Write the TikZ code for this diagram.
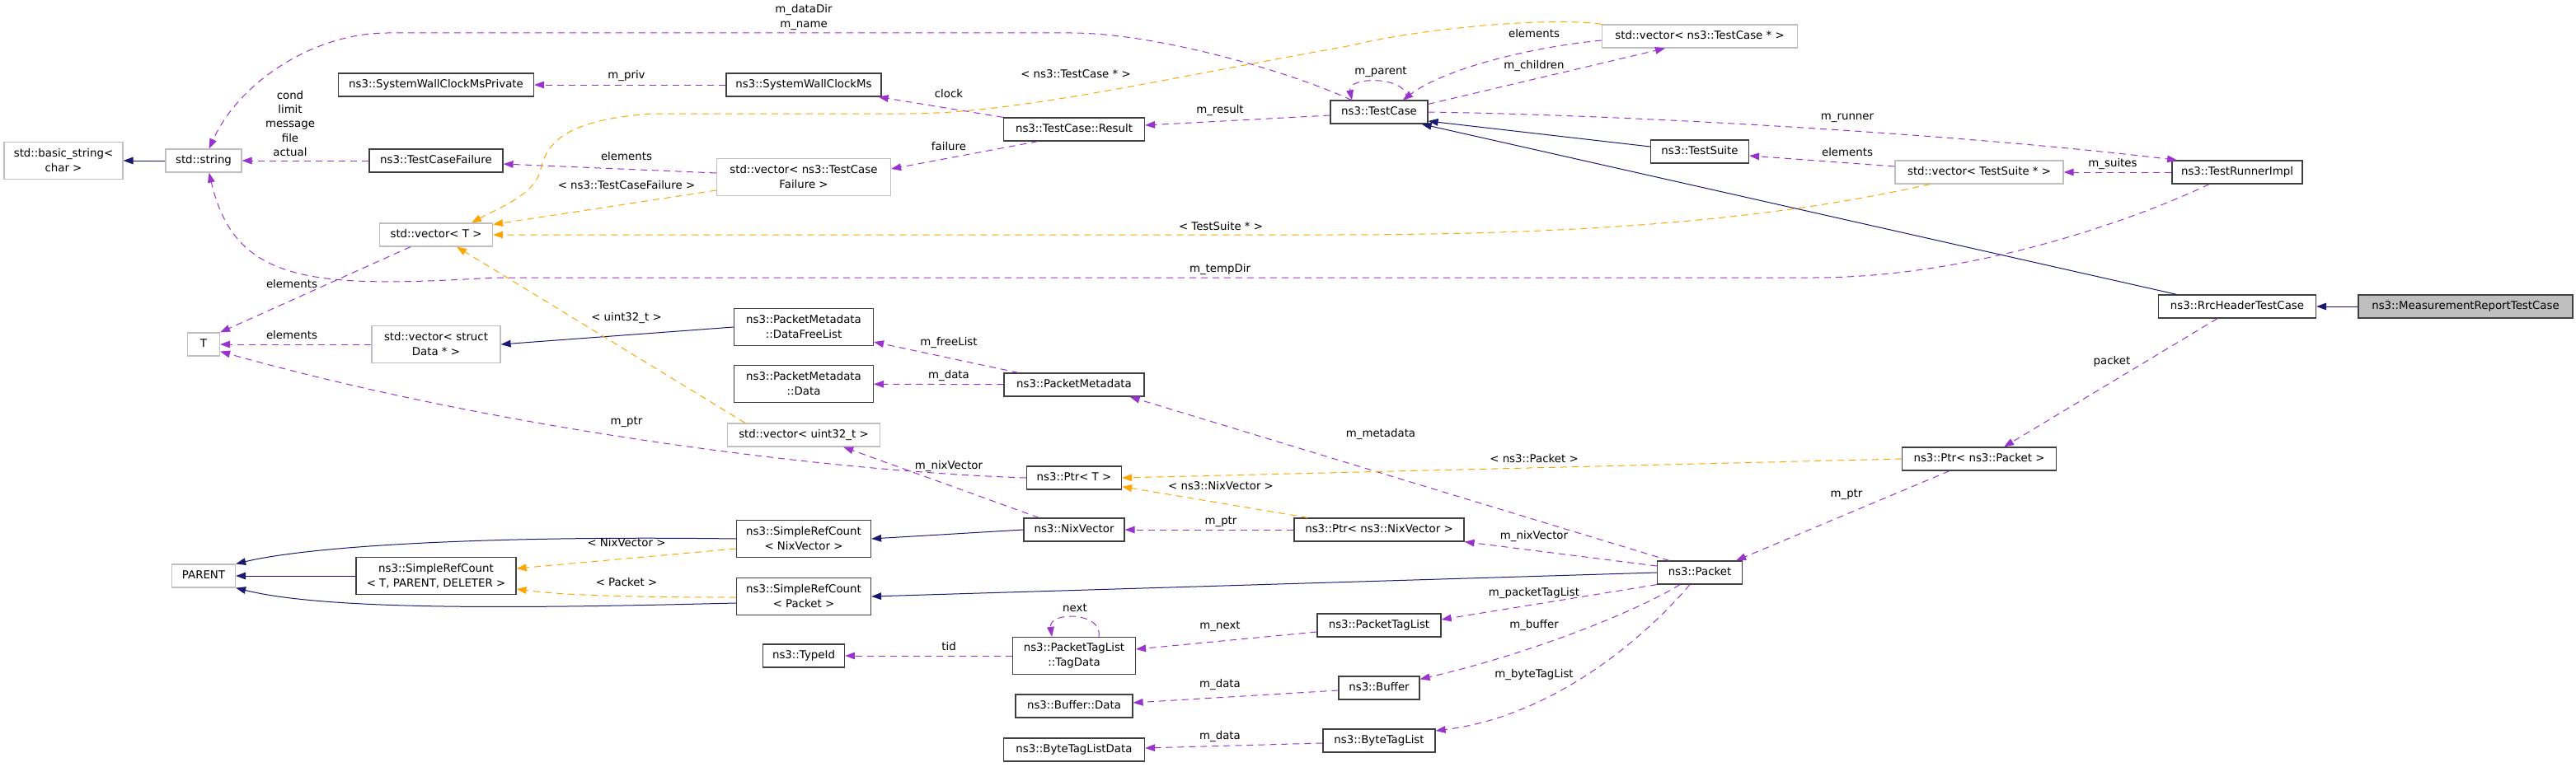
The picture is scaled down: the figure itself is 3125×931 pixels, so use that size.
\documentclass[tikz,border=0pt]{standalone}
\usepackage{fontspec}
\setmainfont{DejaVu Sans}
\usetikzlibrary{arrows.meta}
\definecolor{inhblue}{HTML}{191970}
\definecolor{usepurple}{HTML}{9A32CD}
\definecolor{tplorange}{HTML}{FFA500}
\definecolor{extgrey}{HTML}{BFBFBF}
\begin{document}
\begin{tikzpicture}[x=0.75pt,y=-0.75pt,>={Triangle[length=9pt,width=6.5pt]},
  every node/.style={font=\fontsize{10}{13.5}\selectfont},
  clsbox/.style={draw=black!75,line width=0.9pt,fill=white,inner xsep=2pt,inner ysep=0pt,minimum height=21pt,text height=7.5pt,text depth=2.5pt},
  clsbox2/.style={draw=black!75,line width=0.9pt,fill=white,inner xsep=2pt,inner ysep=0pt,minimum height=33.75pt,align=center},
  extnode/.style={draw=extgrey},
  inherit/.style={->,color=inhblue,line width=0.75pt},
  uses/.style={->,color=usepurple,line width=0.75pt,dash pattern=on 6pt off 4.5pt},
  templ/.style={->,color=tplorange,line width=0.75pt,dash pattern=on 6pt off 4.5pt},
  lbl/.style={inner sep=0pt,text=black,text height=7.5pt,text depth=2.5pt},
  lblm/.style={inner sep=0pt,text=black,align=center}]
\useasboundingbox (0,0) rectangle (3125,931);
\node (bs) [clsbox2, extnode, minimum width=108pt] at (77,195) {std::basic\_string<\\char >};
\node (str) [clsbox, extnode, minimum width=69pt] at (247,195) {std::string};
\node (t) [clsbox, extnode, minimum width=29.25pt] at (247,418) {T};
\node (par) [clsbox, extnode, minimum width=57.75pt] at (247,699) {PARENT};
\node (swp) [clsbox, minimum width=177.75pt] at (529,103) {ns3::SystemWallClockMsPrivate};
\node (tcf) [clsbox, minimum width=121.5pt] at (529,195) {ns3::TestCaseFailure};
\node (vt) [clsbox, extnode, minimum width=102.75pt] at (529,285) {std::vector< T >};
\node (vd) [clsbox2, extnode, minimum width=117pt] at (529,418) {std::vector< struct\\Data * >};
\node (src) [clsbox2, minimum width=145.5pt] at (529,699) {ns3::SimpleRefCount\\< T, PARENT, DELETER >};
\node (sw) [clsbox, minimum width=141pt] at (975,103) {ns3::SystemWallClockMs};
\node (vtcf) [clsbox2, extnode, minimum width=158.25pt] at (975,215) {std::vector< ns3::TestCase\\Failure >};
\node (dfl) [clsbox2, minimum width=126.75pt] at (975,397) {ns3::PacketMetadata\\::DataFreeList};
\node (pmd) [clsbox2, minimum width=126.75pt] at (975,466) {ns3::PacketMetadata\\::Data};
\node (vu) [clsbox, extnode, minimum width=138.75pt] at (975,528) {std::vector< uint32\_t >};
\node (srcn) [clsbox2, minimum width=122.25pt] at (975,654) {ns3::SimpleRefCount\\< NixVector >};
\node (srcp) [clsbox2, minimum width=122.25pt] at (975,724) {ns3::SimpleRefCount\\< Packet >};
\node (tid) [clsbox, minimum width=74.25pt] at (975,796) {ns3::TypeId};
\node (res) [clsbox, minimum width=128.25pt] at (1303,157) {ns3::TestCase::Result};
\node (pm) [clsbox, minimum width=127.5pt] at (1303,467) {ns3::PacketMetadata};
\node (ptrt) [clsbox, minimum width=86.25pt] at (1303,580) {ns3::Ptr< T >};
\node (nix) [clsbox, minimum width=91.5pt] at (1303,643) {ns3::NixVector};
\node (tag) [clsbox2, minimum width=111.75pt] at (1303,796) {ns3::PacketTagList\\::TagData};
\node (bd) [clsbox, minimum width=106.5pt] at (1303,857) {ns3::Buffer::Data};
\node (btd) [clsbox, minimum width=128.25pt] at (1303,910) {ns3::ByteTagListData};
\node (tc) [clsbox, minimum width=88.5pt] at (1673,136) {ns3::TestCase};
\node (ptrn) [clsbox, minimum width=154.5pt] at (1673,643) {ns3::Ptr< ns3::NixVector >};
\node (ptl) [clsbox, minimum width=112.5pt] at (1673,759) {ns3::PacketTagList};
\node (buf) [clsbox, minimum width=73.5pt] at (1673,835) {ns3::Buffer};
\node (btl) [clsbox, minimum width=102pt] at (1673,899) {ns3::ByteTagList};
\node (vtc) [clsbox, extnode, minimum width=177.75pt] at (2062,44) {std::vector< ns3::TestCase * >};
\node (ts) [clsbox, minimum width=89.25pt] at (2062,184) {ns3::TestSuite};
\node (pkt) [clsbox, minimum width=77.25pt] at (2062,695) {ns3::Packet};
\node (vts) [clsbox, extnode, minimum width=153pt] at (2401,209) {std::vector< TestSuite * >};
\node (ptrp) [clsbox, minimum width=140.25pt] at (2401,557) {ns3::Ptr< ns3::Packet >};
\node (tri) [clsbox, minimum width=118.5pt] at (2714,209) {ns3::TestRunnerImpl};
\node (rrc) [clsbox, minimum width=143.25pt] at (2714,372) {ns3::RrcHeaderTestCase};
\node (mr) [clsbox, fill=extgrey, minimum width=195pt] at (2991,372) {ns3::MeasurementReportTestCase};
\path[inherit]
(str) edge (bs)
(dfl.west) edge (vd.east)
(src) edge (par)
(nix.west) edge (srcn.east)
(pkt.west) edge (srcp.east)
([yshift=4.5pt]ts.west) edge ([yshift=-8.25pt]tc.east)
([xshift=17pt]rrc.north west) edge ([xshift=-6pt]tc.south east)
(mr) edge (rrc);
\draw[inherit] (srcn.west) .. controls (600,650) and (380,662) .. (par.north east);
\draw[inherit] ([yshift=-6pt]srcp.west) .. controls (650,738) and (400,742) .. (par.south east);
\path[uses]
(tcf) edge (str)
(vd) edge (t)
(sw) edge (swp)
([yshift=3.75pt]vtcf.west) edge ([yshift=-3pt]tcf.east)
([yshift=-3pt]tc.west) edge ([yshift=3.75pt]res.east)
(res.north west) edge ([xshift=-3pt]sw.south east)
([xshift=-33pt]res.south) edge ([yshift=7.5pt]vtcf.east)
([xshift=-23.25pt]vt.south) edge (t.north east)
([yshift=-3.75pt]tc.north east) edge ([xshift=-31.5pt]vtc.south)
([yshift=5.25pt]vts.west) edge ([yshift=-3.75pt]ts.east)
(tri) edge (vts)
([xshift=-18pt]rrc.south) edge ([xshift=22.5pt]ptrp.north)
([xshift=-27pt]ptrp.south) edge ([xshift=-6pt]pkt.north east)
([xshift=-27.75pt]pkt.north) edge ([xshift=-13.5pt]pm.south east)
([yshift=6pt]pkt.west) edge (ptrn.south east)
(pkt.south west) edge ([yshift=5.25pt]ptl.east)
([xshift=13.5pt]pm.north west) edge ([yshift=3.75pt]dfl.south east)
(pm) edge (pmd)
([xshift=14.25pt]nix.north west) edge ([xshift=-33.75pt]vu.south east)
(ptrn) edge (nix)
(tag) edge (tid)
([yshift=-6pt]ptl.west) edge ([yshift=6pt]tag.east)
([yshift=-2.25pt]buf.west) edge ([yshift=3pt]bd.east)
([yshift=-2.25pt]btl.west) edge ([yshift=1.5pt]btd.east);
\draw[uses] ([xshift=19.5pt]tc.north west) .. controls (1560,85) and (1400,40) .. (1300,40) -- (470,40) .. controls (380,40) and (290,100) .. ([xshift=5pt]str.north);
\draw[uses] ([xshift=-25.5pt]tri.south) .. controls (2600,262) and (2400,337) .. (2200,337) -- (600,337) .. controls (380,350) and (285,345) .. ([xshift=5pt]str.south);
\draw[uses] (ptrt.west) .. controls (1000,572) and (600,520) .. ([yshift=4.5pt]t.south east);
\draw[uses] ([xshift=24.75pt]tc.north) .. controls (1712,92) and (1634,92) .. ([xshift=-24.75pt]tc.north);
\draw[uses] ([yshift=-3.75pt]vtc.west) .. controls (1850,58) and (1750,85) .. ([xshift=21.75pt]tc.north);
\draw[uses] (tc.east) .. controls (2000,140) and (2400,165) .. ([xshift=5pt]tri.north west);
\draw[uses] ([xshift=-18pt]pkt.south) .. controls (1980,745) and (1850,795) .. ([yshift=-3pt]buf.north east);
\draw[uses] ([xshift=-9pt]pkt.south) .. controls (1990,780) and (1880,870) .. ([yshift=9pt]btl.east);
\draw[uses] ([xshift=22.5pt]tag.north) .. controls (1338,742) and (1272,742) .. ([xshift=-20.25pt]tag.north);
\path[templ]
([yshift=-12pt]vtcf.west) edge ([yshift=-1.5pt]vt.north east)
([xshift=16.5pt]vu.north west) edge ([xshift=18.75pt]vt.south)
(ptrp.west) edge (ptrt.east)
([xshift=12.75pt]ptrn.north west) edge ([yshift=3pt]ptrt.south east)
([yshift=-9pt]srcn.west) edge ([yshift=6.75pt]src.east);
\draw[templ] (vtc.north west) .. controls (1880,20) and (1720,35) .. (1640,55) .. controls (1400,98) and (1230,138) .. (1100,138) -- (790,138) .. controls (700,145) and (665,165) .. (656,205) .. controls (650,235) and (610,250) .. ([xshift=32.25pt]vt.north);
\draw[templ] ([xshift=32.25pt]vts.south west) .. controls (2200,255) and (2000,285) .. (1620,285) -- (vt.east);
\draw[templ] ([yshift=-0.75pt]srcp.west) .. controls (750,725) and (680,722) .. ([yshift=-12pt]src.east);
\node (l1) [lblm] at (975,21) {m\_dataDir\\m\_name};
\node (l2) [lblm, font=\fontsize{10}{13}\selectfont] at (352,150) {cond\\limit\\message\\file\\actual};
\node (l3) [lbl] at (1480,327) {m\_tempDir};
\node (l4) [lbl] at (354,346) {elements};
\node (l5) [lbl] at (354,408) {elements};
\node (l6) [lbl] at (760,512) {m\_ptr};
\node (l7) [lbl] at (760,92) {m\_priv};
\node (l8) [lbl] at (1151,115) {clock};
\node (l9) [lbl] at (1151,179) {failure};
\node (l10) [lbl] at (760,191) {elements};
\node (l11) [lbl] at (1480,134) {m\_result};
\node (l12) [lbl] at (1675,87) {m\_parent};
\node (l13) [lbl] at (1861,42) {elements};
\node (l14) [lbl] at (1861,80) {m\_children};
\node (l15) [lbl] at (2241,142) {m\_runner};
\node (l16) [lbl] at (2241,186) {elements};
\node (l17) [lbl] at (2563,199) {m\_suites};
\node (l18) [lbl] at (2562,439) {packet};
\node (l19) [lbl] at (2240,600) {m\_ptr};
\node (l20) [lbl] at (1675,527) {m\_metadata};
\node (l21) [lbl] at (1861,651) {m\_nixVector};
\node (l22) [lbl] at (1861,720) {m\_packetTagList};
\node (l23) [lbl] at (1861,759) {m\_buffer};
\node (l24) [lbl] at (1861,819) {m\_byteTagList};
\node (l25) [lbl] at (1151,416) {m\_freeList};
\node (l26) [lbl] at (1151,456) {m\_data};
\node (l27) [lbl] at (1151,566) {m\_nixVector};
\node (l28) [lbl] at (1481,633) {m\_ptr};
\node (l29) [lbl] at (1151,786) {tid};
\node (l30) [lbl] at (1304,739) {next};
\node (l31) [lbl] at (1480,760) {m\_next};
\node (l32) [lbl] at (1480,831) {m\_data};
\node (l33) [lbl] at (1480,894) {m\_data};
\node (l34) [lbl] at (1305,91) {< ns3::TestCase * >};
\node (l35) [lbl] at (760,226) {< ns3::TestCaseFailure >};
\node (l36) [lbl] at (1481,276) {< TestSuite * >};
\node (l37) [lbl] at (760,386) {< uint32\_t >};
\node (l38) [lbl] at (1861,558) {< ns3::Packet >};
\node (l39) [lbl] at (1481,591) {< ns3::NixVector >};
\node (l40) [lbl] at (760,660) {< NixVector >};
\node (l41) [lbl] at (760,708) {< Packet >};
\end{tikzpicture}
\end{document}
